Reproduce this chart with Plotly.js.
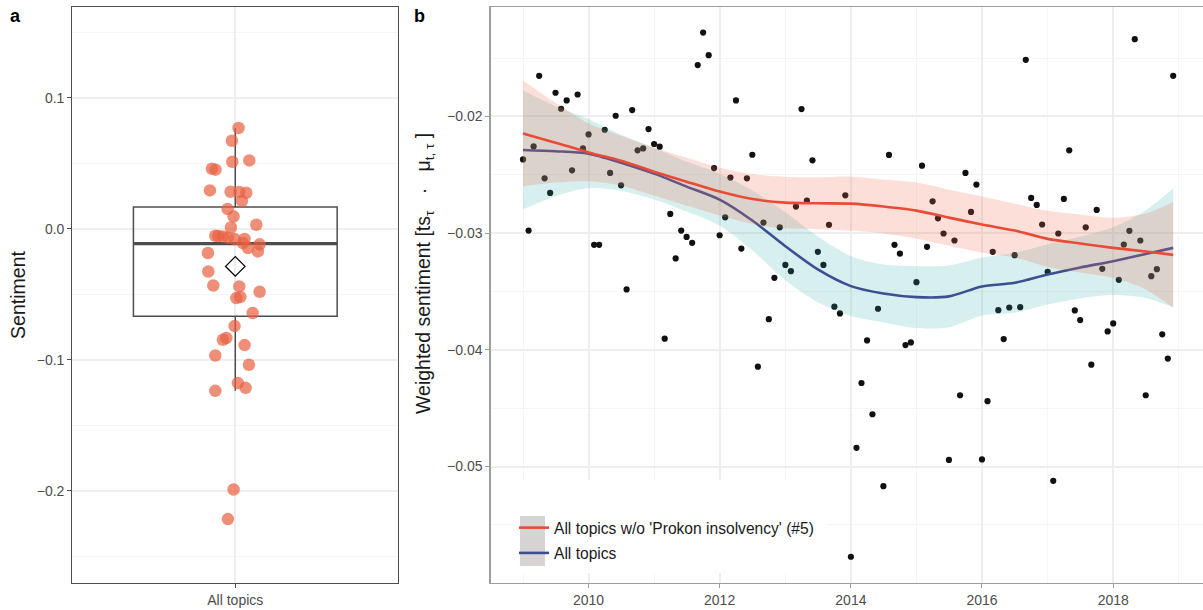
<!DOCTYPE html>
<html>
<head>
<meta charset="utf-8">
<script src="https://cdn.plot.ly/plotly-3.0.1.min.js"></script>
<style>html,body{margin:0;padding:0;background:#fff}#chart{width:1203px;height:610px}</style>
</head>
<body>
<div id="chart"></div>
<script>
// ---------- Panel a: sentiment per topic ----------
const leftCategory = ['All topics'];
const leftValues = [0.0768,0.0671,0.0511,0.0521,0.0457,0.0450,0.0292,0.0282,0.0279,0.0274,0.0211,0.0150,0.0093,0.0030,0.0009,
  -0.0056,-0.0060,-0.0069,-0.0054,-0.0079,-0.0079,-0.0110,-0.0148,-0.0120,-0.0174,-0.0186,-0.0327,-0.0434,-0.0441,-0.0482,
  -0.0522,-0.0530,-0.0644,-0.0744,-0.0835,-0.0848,-0.0889,-0.0968,-0.1039,-0.1179,-0.1215,-0.1238,-0.1991,-0.2217];
const leftJitter = [0.012,-0.0125,-0.011,0.0515,-0.0861,-0.0725,-0.0935,-0.0173,0.0147,0.0405,0.0243,-0.0283,-0.0063,0.0773,-0.0162,
  -0.0626,-0.0456,-0.0272,-0.0736,-0.0026,0.0342,0.028,0.0464,0.0894,0.0832,-0.1008,-0.0994,-0.081,0.0147,0.0894,
  0.0184,0.0037,0.0637,-0.0026,-0.0331,-0.0456,0.0342,-0.0736,0.0501,0.0096,0.0379,-0.0736,-0.0063,-0.0272];
const leftTickVals = [0.1, 0.0, -0.1, -0.2];
const leftTickText = ['0.1', '0.0', '\u22120.1', '\u22120.2'];
const leftMinorGrid = [0.15, 0.05, -0.05, -0.15, -0.25];

// ---------- Panel b: monthly weighted sentiment ----------
const rightMonths = [
 '2009-01','2009-02','2009-03','2009-04','2009-05','2009-06','2009-07','2009-08','2009-09','2009-10','2009-11','2009-12',
 '2010-01','2010-02','2010-03','2010-04','2010-05','2010-06','2010-07','2010-08','2010-09','2010-10','2010-11','2010-12',
 '2011-01','2011-02','2011-03','2011-04','2011-05','2011-06','2011-07','2011-08','2011-09','2011-10','2011-11','2011-12',
 '2012-01','2012-02','2012-03','2012-04','2012-05','2012-06','2012-07','2012-08','2012-09','2012-10','2012-11','2012-12',
 '2013-01','2013-02','2013-03','2013-04','2013-05','2013-06','2013-07','2013-08','2013-09','2013-10','2013-11','2013-12',
 '2014-01','2014-02','2014-03','2014-04','2014-05','2014-06','2014-07','2014-08','2014-09','2014-10','2014-11','2014-12',
 '2015-01','2015-02','2015-03','2015-04','2015-05','2015-06','2015-07','2015-08','2015-09','2015-10','2015-11','2015-12',
 '2016-01','2016-02','2016-03','2016-04','2016-05','2016-06','2016-07','2016-08','2016-09','2016-10','2016-11','2016-12',
 '2017-01','2017-02','2017-03','2017-04','2017-05','2017-06','2017-07','2017-08','2017-09','2017-10','2017-11','2017-12',
 '2018-01','2018-02','2018-03','2018-04','2018-05','2018-06','2018-07','2018-08','2018-09','2018-10','2018-11','2018-12'];
const rightValues = [
 -0.02368,-0.02978,-0.02257,-0.01652,-0.02530,-0.02655,-0.01797,-0.01934,-0.01863,-0.02462,-0.01812,-0.02274,
 -0.02154,-0.03100,-0.03100,-0.02114,-0.02484,-0.01994,-0.02590,-0.03482,-0.01945,-0.02290,-0.02274,-0.02108,
 -0.02236,-0.02259,-0.03904,-0.02835,-0.03217,-0.02978,-0.03032,-0.03083,-0.01560,-0.01281,-0.01475,-0.02442,
 -0.03018,-0.02864,-0.02524,-0.01863,-0.03132,-0.02530,-0.02328,-0.04144,-0.02909,-0.03737,-0.03383,-0.02950,
 -0.03272,-0.03326,-0.02772,-0.01937,-0.02721,-0.02376,-0.03160,-0.03272,-0.02929,-0.03630,-0.03688,-0.02676,
 -0.05773,-0.04840,-0.04284,-0.03919,-0.04552,-0.03648,-0.05168,-0.02330,-0.03100,-0.03175,-0.03959,-0.03936,
 -0.03420,-0.02422,-0.03117,-0.02727,-0.02873,-0.03003,-0.04943,-0.03063,-0.04389,-0.02484,-0.02818,-0.02584,
 -0.04939,-0.04440,-0.03160,-0.03660,-0.03908,-0.03637,-0.03189,-0.03634,-0.01515,-0.02698,-0.02758,-0.02926,
 -0.03331,-0.05122,-0.03003,-0.02707,-0.02290,-0.03662,-0.03745,-0.02950,-0.04127,-0.02801,-0.03306,-0.03842,
 -0.03774,-0.03400,-0.03098,-0.02980,-0.01338,-0.03063,-0.04389,-0.03369,-0.03309,-0.03867,-0.04075,-0.01652];
const rightTickVals = [-0.02, -0.03, -0.04, -0.05];
const rightTickText = ['\u22120.02', '\u22120.03', '\u22120.04', '\u22120.05'];
const rightMinorGrid = [-0.015, -0.025, -0.035, -0.045, -0.055];

// smoothed trends
const smoothMonths = ['2009-01-01','2009-07-01','2010-01-01','2010-07-01','2011-01-01','2011-07-01','2012-01-01','2012-07-01',
 '2013-01-01','2013-07-01','2014-01-01','2014-07-01','2015-01-01','2015-07-01','2016-01-01','2016-07-01','2017-01-01',
 '2017-07-01','2018-01-01','2018-07-01','2018-12-01'];
const woProkonFit = [-0.02145,-0.02225,-0.02308,-0.02379,-0.02473,-0.02559,-0.02644,-0.02708,-0.02738,-0.02744,-0.02747,
 -0.02772,-0.02807,-0.02867,-0.02926,-0.02978,-0.03049,-0.03089,-0.03126,-0.03157,-0.03186];
const woProkonUpper = [-0.01692,-0.01883,-0.02060,-0.02165,-0.02268,-0.02354,-0.02439,-0.02494,-0.02516,-0.02522,-0.02516,
 -0.02541,-0.02567,-0.02627,-0.02686,-0.02747,-0.02809,-0.02841,-0.02869,-0.02832,-0.02733];
const woProkonLower = [-0.02598,-0.02567,-0.02556,-0.02593,-0.02678,-0.02764,-0.02849,-0.02922,-0.02960,-0.02966,-0.02978,
 -0.03003,-0.03047,-0.03107,-0.03166,-0.03209,-0.03289,-0.03337,-0.03383,-0.03482,-0.03639];
const allFit = [-0.02287,-0.02298,-0.02319,-0.02396,-0.02490,-0.02601,-0.02713,-0.02892,-0.03112,-0.03311,-0.03454,
 -0.03517,-0.03548,-0.03542,-0.03457,-0.03425,-0.03354,-0.03294,-0.03240,-0.03179,-0.03126];
const allUpper = [-0.01778,-0.01913,-0.02024,-0.02156,-0.02268,-0.02387,-0.02491,-0.02635,-0.02821,-0.03029,-0.03197,
 -0.03269,-0.03283,-0.03277,-0.03209,-0.03168,-0.03097,-0.03029,-0.02949,-0.02803,-0.02617];
const allLower = [-0.02796,-0.02683,-0.02614,-0.02636,-0.02712,-0.02815,-0.02935,-0.03149,-0.03403,-0.03593,-0.03711,
 -0.03765,-0.03813,-0.03807,-0.03705,-0.03682,-0.03611,-0.03559,-0.03531,-0.03555,-0.03635];

const seriesNames = ["All topics w/o 'Prokon insolvency' (#5)", 'All topics'];

// ---------- layout helpers (pixel -> paper) ----------
const W = 1203, H = 610, MT = 7, MB = 27;
const PH = H - MT - MB;
const px = v => v / W;
const py = v => 1 - (v - MT) / PH;

// box statistics computed from the data (type-7 quantiles, 1.5*IQR whiskers)
const boxWidth = 0.75;
const sorted = leftValues.slice().sort((a, b) => a - b);
const n = sorted.length;
const q = p => { const h = (n - 1) * p, lo = Math.floor(h); return sorted[lo] + (h - lo) * ((sorted[lo + 1] ?? sorted[lo]) - sorted[lo]); };
const q1 = q(0.25), med = q(0.5), q3 = q(0.75), iqr = q3 - q1;
const lf = sorted.find(v => v >= q1 - 1.5 * iqr);
const uf = sorted.slice().reverse().find(v => v <= q3 + 1.5 * iqr);
const mean = leftValues.reduce((s, v) => s + v, 0) / n;

const FONT = 'Liberation Sans, Arial, Helvetica, sans-serif';
const RED = '#E94B37', BLUE = '#3D4F93';
const NB = '\u00a0';

const traces = [
  // panel a
  {type:'box', x:[1], q1:[q1], median:[med], q3:[q3], lowerfence:[lf], upperfence:[uf], xaxis:'x', yaxis:'y',
   width: boxWidth, boxpoints:false, line:{color:'#4d4d4d', width:1.5},
   fillcolor:'rgba(0,0,0,0)', whiskerwidth:0, showlegend:false, hoverinfo:'skip'},
  {type:'scatter', mode:'lines', x:[1 - boxWidth/2, 1 + boxWidth/2], y:[med, med], xaxis:'x', yaxis:'y',
   line:{color:'#4d4d4d', width:3.2}, showlegend:false, hoverinfo:'skip'},
  {type:'scatter', mode:'markers', x: leftJitter.map(j => 1 + j), y: leftValues, xaxis:'x', yaxis:'y',
   marker:{size:12.5, color:'rgba(232,96,64,0.70)', line:{width:0}}, showlegend:false},
  {type:'scatter', mode:'markers', x:[1], y:[mean], xaxis:'x', yaxis:'y',
   marker:{symbol:'diamond-open', size:15, color:'#000', line:{width:1.3, color:'#000'}}, showlegend:false},

  // panel b
  {type:'scatter', mode:'markers', x: rightMonths, y: rightValues, xaxis:'x2', yaxis:'y2',
   marker:{size:6.2, color:'#111'}, showlegend:false},
  {type:'scatter', mode:'lines', x: smoothMonths, y: allLower, xaxis:'x2', yaxis:'y2',
   line:{width:0, shape:'spline', smoothing:0.8}, showlegend:false, hoverinfo:'skip'},
  {type:'scatter', mode:'lines', x: smoothMonths, y: allUpper, xaxis:'x2', yaxis:'y2', fill:'tonexty',
   fillcolor:'rgba(40,170,170,0.19)', line:{width:0, shape:'spline', smoothing:0.8}, showlegend:false, hoverinfo:'skip'},
  {type:'scatter', mode:'lines', x: smoothMonths, y: allFit, xaxis:'x2', yaxis:'y2', name: seriesNames[1],
   line:{color:BLUE, width:2.6, shape:'spline', smoothing:0.8}, legendrank:2, legendgroup:'g2'},
  {type:'scatter', mode:'lines', x: smoothMonths, y: woProkonLower, xaxis:'x2', yaxis:'y2',
   line:{width:0, shape:'spline', smoothing:0.8}, showlegend:false, hoverinfo:'skip'},
  {type:'scatter', mode:'lines', x: smoothMonths, y: woProkonUpper, xaxis:'x2', yaxis:'y2', fill:'tonexty',
   fillcolor:'rgba(240,110,80,0.22)', line:{width:0, shape:'spline', smoothing:0.8}, showlegend:false, hoverinfo:'skip'},
  {type:'scatter', mode:'lines', x: smoothMonths, y: woProkonFit, xaxis:'x2', yaxis:'y2', name: seriesNames[0],
   line:{color:RED, width:2.6, shape:'spline', smoothing:0.8}, legendrank:1, legendgroup:'g1'}
];

const tickFont = {family:FONT, size:14, color:'#4d4d4d'};
const titleFont = {family:FONT, size:19.5, color:'#1a1a1a'};
const GRID = '#eeeeee', MINOR = '#f5f5f5';

const rightTitle = 'Weighted sentiment [ts<sub>τ</sub>' + NB + NB + NB + '·' + NB + NB + NB + 'μ<sub>t,' + NB + 'τ</sub>' + NB + ']';

const layout = {
  width: W, height: H,
  margin: {l:0, r:0, t:MT, b:MB, pad:0},
  paper_bgcolor:'#fff', plot_bgcolor:'#fff',
  font: {family: FONT},
  showlegend: true,
  legend: {x: px(514), y: py(511), xanchor:'left', yanchor:'top', bgcolor:'rgba(0,0,0,0)',
    font:{family:FONT, size:15.6, color:'#1a1a1a'}, itemwidth:30, traceorder:'grouped', tracegroupgap:2},
  xaxis: {domain:[px(72.3), px(398.3)], range:[0.4, 1.6], tickvals:[1], ticktext: leftCategory,
    showgrid:true, gridcolor:GRID, gridwidth:2, zeroline:false,
    showline:true, mirror:true, linecolor:'#4d4d4d', linewidth:1.1,
    ticks:'outside', ticklen:4, tickcolor:'#4d4d4d', tickfont: tickFont, fixedrange:true},
  yaxis: {domain:[0,1], range:[-0.2705, 0.1692], anchor:'x', tickmode:'array', tickvals: leftTickVals, ticktext: leftTickText,
    showgrid:true, gridcolor:GRID, gridwidth:2, zeroline:false,
    minor:{tickmode:'array', tickvals: leftMinorGrid, showgrid:true, gridcolor:MINOR, gridwidth:1, ticks:''},
    showline:true, mirror:true, linecolor:'#4d4d4d', linewidth:1.1,
    ticks:'outside', ticklen:4, tickcolor:'#4d4d4d', tickfont: tickFont,
    title:{text:'Sentiment', font:titleFont, standoff:5}},
  xaxis2: {domain:[px(490.7), 1], type:'date', range:['2008-07-05','2019-05-16'], anchor:'y2',
    dtick:'M24', tick0:'2010-01-01', tickformat:'%Y',
    showgrid:true, gridcolor:GRID, gridwidth:2, zeroline:false,
    minor:{dtick:'M24', tick0:'2009-01-01', showgrid:true, gridcolor:MINOR, gridwidth:1, ticks:''},
    showline:true, mirror:true, linecolor:'#9e9e9e', linewidth:1.4,
    ticks:'outside', ticklen:4, tickcolor:'#9e9e9e', tickfont: tickFont},
  yaxis2: {domain:[0,1], range:[-0.05998, -0.01062], anchor:'x2', tickmode:'array', tickvals: rightTickVals, ticktext: rightTickText,
    showgrid:true, gridcolor:GRID, gridwidth:2, zeroline:false,
    minor:{tickmode:'array', tickvals: rightMinorGrid, showgrid:true, gridcolor:MINOR, gridwidth:1, ticks:''},
    showline:true, mirror:false, linecolor:'#9e9e9e', linewidth:1.4,
    ticks:'outside', ticklen:4, tickcolor:'#9e9e9e', tickfont: tickFont},
  shapes: [
    {type:'rect', xref:'paper', yref:'paper', x0:px(513), x1:px(828), y0:py(573), y1:py(480),
     fillcolor:'#fff', line:{width:0}, layer:'above'},
    {type:'rect', xref:'paper', yref:'paper', x0:px(520), x1:px(545), y0:py(566), y1:py(516),
     fillcolor:'#d6d3d2', line:{width:0}, layer:'above'}
  ],
  annotations: [
    {text:'<b>a</b>', xref:'paper', yref:'paper', x:px(8), y:py(16), xanchor:'left', yanchor:'middle',
     showarrow:false, font:{family:FONT, size:18, color:'#000'}},
    {text:'<b>b</b>', xref:'paper', yref:'paper', x:px(412), y:py(16), xanchor:'left', yanchor:'middle',
     showarrow:false, font:{family:FONT, size:18, color:'#000'}},
    {text: rightTitle, xref:'paper', yref:'paper', x:px(424), y:py(274), xanchor:'center', yanchor:'middle',
     textangle:-90, showarrow:false, font:titleFont}
  ]
};

Plotly.newPlot('chart', traces, layout, {staticPlot:true, displayModeBar:false});
</script>
</body>
</html>
